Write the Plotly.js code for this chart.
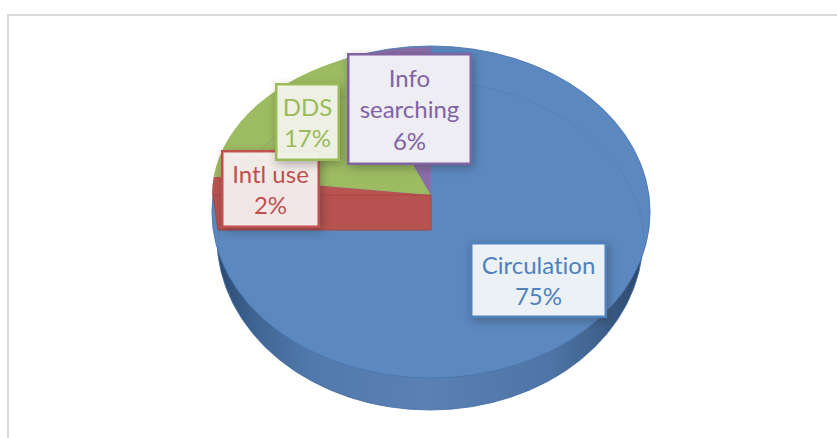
<!DOCTYPE html>
<html>
<head>
<meta charset="utf-8">
<script src="https://cdn.plot.ly/plotly-3.0.1.min.js"></script>
<style>
html,body{margin:0;padding:0;background:#fff;overflow:hidden}
#chart{width:837px;height:438px}
.annotation rect{filter:drop-shadow(2px 3px 5px rgba(40,40,40,.35))}
.annotation text{font-variant-ligatures:none;font-feature-settings:"liga" 0}
</style>
</head>
<body>
<div id="chart"></div>
<script>
const labels = ['Circulation', 'Intl use', 'DDS', 'Info<br>searching'];
const values = [75, 2, 17, 6];
const sliceColors = ['rgba(0,0,0,0)', '#ba5450', '#9dbb61', '#8a6ea8'];
const textColors = ['#4f81bd', '#c0504d', '#9bbb59', '#8064a2'];
const boxFills = ['#ecf1f6', 'rgba(248,240,240,0.95)', 'rgba(243,246,235,0.95)', '#efedf4'];
const boxes = [[472, 244, 604, 315], [223, 152, 317, 225], [277, 86, 337, 159], [349, 55, 469, 162]];

const W = 837, H = 438, cx = 431;
const fx = x => x / W, fy = y => 1 - y / H;
const dom = {x: [(cx - 219) / W, (cx + 219) / W], y: [0, 1]};
const base = {type: 'pie', sort: false, direction: 'clockwise', rotation: 0, textinfo: 'none',
  hoverinfo: 'skip', showlegend: false, domain: dom};
const total = values.reduce((a, b) => a + b, 0);

const data = [
  Object.assign({}, base, {labels: ['wall'], values: [total], marker: {colors: ['#4f75a6'], line: {width: 1, color: '#4a72a8'}}}),
  Object.assign({}, base, {labels: ['face'], values: [total], marker: {colors: ['#5b88bf'], line: {width: 1, color: '#4a76ad'}}}),
  Object.assign({}, base, {labels: labels, values: values, marker: {colors: sliceColors, line: {width: 0}}})
];
// placement of each layer: [centre x, centre y, horizontal scale, vertical scale]
const layerGeometry = [[430, 238, 213 / 219, 172 / 219], [cx, 212, 1, 166 / 219], [cx, 195, 1, 148 / 219]];

// inner bevel arc of the 3D face
const a = 213, b = 171, cyB = 253, k = 0.5523;
const P = (x, y) => fx(x) + ' ' + fy(y);
const bevel = 'M ' + P(cx - a, cyB) +
  ' C ' + P(cx - a, cyB - k * b) + ' ' + P(cx - k * a, cyB - b) + ' ' + P(cx, cyB - b) +
  ' C ' + P(cx + k * a, cyB - b) + ' ' + P(cx + a, cyB - k * b) + ' ' + P(cx + a, cyB - 12);
const redWall = 'M ' + P(cx, 195) + ' L ' + P(213, 195) + ' L ' + P(218, 230) + ' L ' + P(cx, 230) + ' Z';

const shapes = [
  {type: 'rect', xref: 'paper', yref: 'paper', x0: fx(8), x1: fx(870), y0: fy(470), y1: fy(15), line: {color: '#d9d9d9', width: 2}},
  {type: 'path', xref: 'paper', yref: 'paper', path: redWall, fillcolor: '#b6524f', line: {color: '#a84542', width: 1}},
  {type: 'path', xref: 'paper', yref: 'paper', path: bevel, line: {color: 'rgba(60,105,165,0.22)', width: 1}}
];

const annotations = labels.map((t, i) => {
  const r = boxes[i];
  return {
    xref: 'paper', yref: 'paper', x: fx((r[0] + r[2]) / 2), y: fy((r[1] + r[3]) / 2),
    xanchor: 'center', yanchor: 'middle', showarrow: false, align: 'center', valign: 'middle',
    text: t + '<br>' + values[i] + '%',
    width: r[2] - r[0], height: r[3] - r[1], borderpad: 0,
    bgcolor: boxFills[i], bordercolor: textColors[i], borderwidth: 2.5,
    font: {family: 'Lato, "Open Sans", sans-serif', size: 24, color: textColors[i]}
  };
});

const layout = {
  width: W, height: H, margin: {l: 0, r: 0, t: 0, b: 0},
  paper_bgcolor: '#fff', plot_bgcolor: '#fff', showlegend: false,
  shapes: shapes, annotations: annotations
};

Plotly.newPlot('chart', data, layout, {displayModeBar: false, staticPlot: true}).then(gd => {
  const svg = gd.querySelector('.main-svg');
  const traces = gd.querySelectorAll('.pielayer .trace');
  traces.forEach((g, i) => {
    const [x0, cy, sx, sy] = layerGeometry[i];
    g.setAttribute('transform', 'translate(' + x0 + ',' + cy + ') scale(' + sx + ',' + sy + ') translate(' + (-cx) + ',' + (-H / 2) + ')');
  });
  // horizontal shading of the side wall
  const NS = 'http://www.w3.org/2000/svg';
  const defs = svg.querySelector('defs');
  const grad = document.createElementNS(NS, 'linearGradient');
  grad.setAttribute('id', 'wallShade');
  grad.setAttribute('gradientUnits', 'userSpaceOnUse');
  grad.setAttribute('x1', cx - 219); grad.setAttribute('x2', cx + 219);
  grad.setAttribute('y1', 0); grad.setAttribute('y2', 0);
  [[0, '#2b4a72'], [0.09, '#3f6593'], [0.22, '#5279ac'], [0.5, '#5a80b4'], [0.78, '#4f75a6'], [0.9, '#3f618c'], [1, '#2b4668']]
    .forEach(st => {
      const e = document.createElementNS(NS, 'stop');
      e.setAttribute('offset', st[0]); e.setAttribute('stop-color', st[1]);
      grad.appendChild(e);
    });
  defs.appendChild(grad);
  const wall = traces[0].querySelector('path');
  if (wall) wall.style.fill = 'url(#wallShade)';
});
</script>
</body>
</html>
